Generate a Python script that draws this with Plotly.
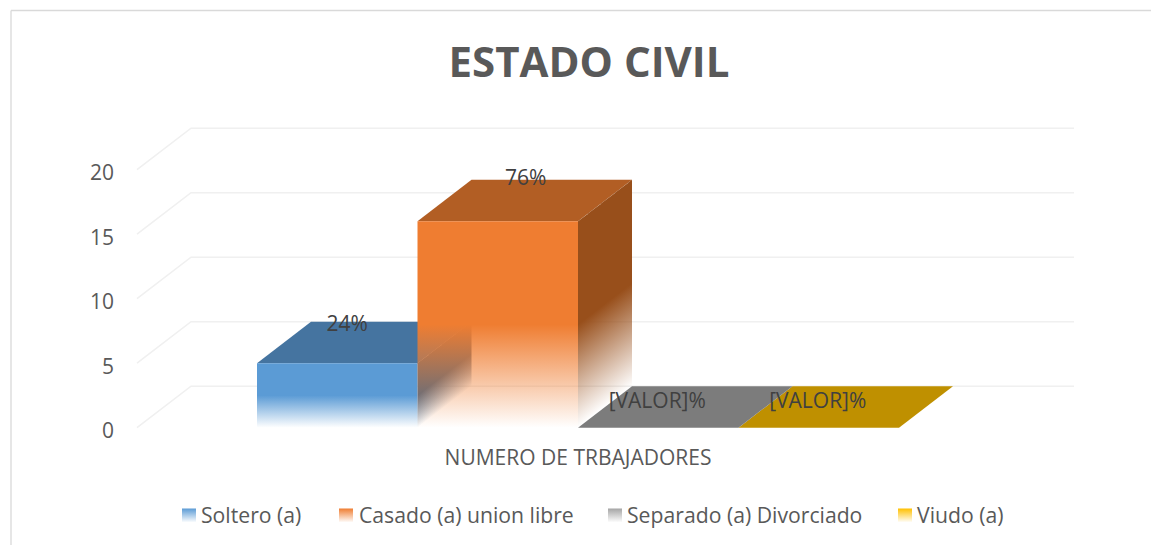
import math
import plotly.graph_objects as go

# ---- data -------------------------------------------------------------
series_names = ["Soltero (a)", "Casado (a) union libre", "Separado (a) Divorciado", "Viudo (a)"]
series_values = [5, 16, 0, 0]
data_labels = ["24%", "76%", "[VALOR]%", "[VALOR]%"]
y_ticks = [0, 5, 10, 15, 20]
category = "NUMERO DE TRBAJADORES"
title_text = "ESTADO CIVIL"

# ---- colours ----------------------------------------------------------
front_rgb = [(91, 155, 213), (239, 125, 49), (165, 165, 165), (255, 192, 0)]
top_rgb = [(69, 116, 160), (178, 94, 36), (124, 124, 124), (191, 144, 0)]
side_rgb = [(59, 104, 145), (152, 79, 27), (100, 100, 100), (150, 112, 0)]
TEXT = "#595959"
LABEL = "#404040"
GRID = "#f0f0f0"
FRAME = "#d9d9d9"
FONT = "Open Sans"

# ---- projection (pixels of the picture <-> axis units) ------------------
W, H = 1151, 545
PX_X = 160.5            # pixels per bar width
PX_Y = 12.9             # pixels per value unit
X0_PX, Y0_PX = 257, 427.7  # where x=0, value=0 fall
LEFT = 118               # plot margin
AXIS_PX = 442.5          # where the category axis sits
DEPTH_PX = 54
DEPTH_X = DEPTH_PX / PX_X  # depth offset in x units
DEPTH_Y = 41.5 / PX_Y      # depth offset in value units
WALL_END = (1074 - X0_PX) / PX_X
WALL_START = (137 - X0_PX) / PX_X

x_range = [(LEFT - X0_PX) / PX_X, (W - X0_PX) / PX_X]
y_range = [-(H - Y0_PX) / PX_Y, Y0_PX / PX_Y]


def rgba(c, a=1.0):
    return f"rgba({c[0]},{c[1]},{c[2]},{a})"


def fade(c):
    return dict(type="vertical", colorscale=[[0, rgba(c, 0)], [1, rgba(c, 1)]])


fig = go.Figure()


def poly(xs, ys, color=None, gradient=None):
    kw = dict(fillgradient=gradient) if gradient else dict(fillcolor=color)
    fig.add_trace(go.Scatter(x=xs + xs[:1], y=ys + ys[:1], mode="lines", fill="toself",
                             line=dict(width=0), hoverinfo="skip", showlegend=False, **kw))


# gridlines: floor edge of the side wall + back wall
for v in y_ticks:
    fig.add_trace(go.Scatter(x=[WALL_START, WALL_START + DEPTH_X, WALL_END],
                             y=[v, v + DEPTH_Y, v + DEPTH_Y], mode="lines",
                             line=dict(color=GRID, width=1.6), hoverinfo="skip", showlegend=False))


def side_steps(i):
    """Depth fractions for the side-face columns, cut on whole screen pixels."""
    start = X0_PX + (i + 1) * PX_X
    end = start + DEPTH_PX
    cuts = [start] + [p for p in range(math.ceil(start), math.floor(end) + 1) if start < p < end] + [end]
    return [(c - start) / DEPTH_PX for c in cuts]


def draw_box(i, val):
    x1, x2 = i, i + 1
    # top face
    poly([x1, x2, x2 + DEPTH_X, x1 + DEPTH_X], [val, val, val + DEPTH_Y, val + DEPTH_Y], color=rgba(top_rgb[i]))
    if val <= 0:
        return
    # right side face, sliced into columns so its fade follows the depth
    steps = side_steps(i)
    for t1, t2 in zip(steps[:-1], steps[1:]):
        ym = (t1 + t2) / 2 * DEPTH_Y
        g = fade(side_rgb[i])
        g.update(start=ym, stop=val / 2 + ym)
        poly([x2 + t1 * DEPTH_X, x2 + t2 * DEPTH_X, x2 + t2 * DEPTH_X, x2 + t1 * DEPTH_X],
             [t1 * DEPTH_Y, t2 * DEPTH_Y, val + t2 * DEPTH_Y, val + t1 * DEPTH_Y], gradient=g)
    # front face
    g = fade(front_rgb[i])
    g.update(start=0, stop=val / 2)
    poly([x1, x2, x2, x1], [0, 0, val, val], gradient=g)


# back-to-front painting order
for i in [3, 2, 0, 1]:
    draw_box(i, series_values[i])

# data labels
label_dx = [10 / PX_X, 28 / PX_X, -1 / PX_X, -1 / PX_X]
label_dy = [2.88, 3.2, 1.91, 1.91]
fig.add_trace(go.Scatter(x=[i + 0.5 + label_dx[i] for i in range(4)],
                         y=[series_values[i] + label_dy[i] for i in range(4)],
                         mode="text", text=data_labels, textposition="middle center",
                         textfont=dict(family=FONT, size=21, color=LABEL),
                         hoverinfo="skip", showlegend=False, cliponaxis=False))

# legend row: gradient swatch + name
swatch_px = [189, 346, 615, 905]
legend_text_px = [201, 359, 627, 917]
swatch_y = -(515.5 - Y0_PX) / PX_Y
legend_text_y = -(517.5 - Y0_PX) / PX_Y
for i, name in enumerate(series_names):
    fig.add_trace(go.Scatter(x=[(swatch_px[i] - X0_PX) / PX_X], y=[swatch_y], mode="markers",
                             marker=dict(symbol="square", size=14, color=rgba(front_rgb[i]), line=dict(width=0),
                                         gradient=dict(type="vertical", color="white")),
                             hoverinfo="skip", showlegend=False, cliponaxis=False))
    fig.add_trace(go.Scatter(x=[(legend_text_px[i] - X0_PX) / PX_X], y=[legend_text_y], mode="text",
                             text=[name], textposition="middle right",
                             textfont=dict(family=FONT, size=21.2, color=TEXT),
                             hoverinfo="skip", showlegend=False, cliponaxis=False))

fig.update_layout(
    width=W, height=H, autosize=False,
    margin=dict(l=LEFT, r=0, t=0, b=0),
    paper_bgcolor="white", plot_bgcolor="white", showlegend=False,
    title=dict(text=title_text, x=589 / W, y=1 - 62 / H, xanchor="center", yanchor="middle",
               font=dict(family=FONT, size=42, color=TEXT, weight="bold")),
    xaxis=dict(range=x_range, showgrid=False, zeroline=False, showline=False, ticks="",
               anchor="free", position=1 - AXIS_PX / H,
               tickvals=[(578 - X0_PX) / PX_X], ticktext=[category],
               tickfont=dict(family=FONT, size=21, color=TEXT)),
    yaxis=dict(range=y_range, showgrid=False, zeroline=False, showline=False, ticks="",
               tickvals=y_ticks, ticklabelstandoff=3, ticklabelshift=3,
               tickfont=dict(family=FONT, size=21, color=TEXT)),
)

# chart frame (top and left edges only)
frame = dict(layer="below", line=dict(color=FRAME, width=1.3))
to_x = lambda px: (px - LEFT) / (W - LEFT)
to_y = lambda px: 1 - px / H
fig.add_shape(type="line", xref="paper", yref="paper", x0=to_x(11), x1=to_x(W), y0=to_y(10.5), y1=to_y(10.5), **frame)
fig.add_shape(type="line", xref="paper", yref="paper", x0=to_x(11), x1=to_x(11), y0=to_y(10.5), y1=to_y(H), **frame)

fig.write_html("out.html", config=dict(displayModeBar=False),
               post_script="document.body.style.margin='0';document.documentElement.style.overflow='hidden';")
